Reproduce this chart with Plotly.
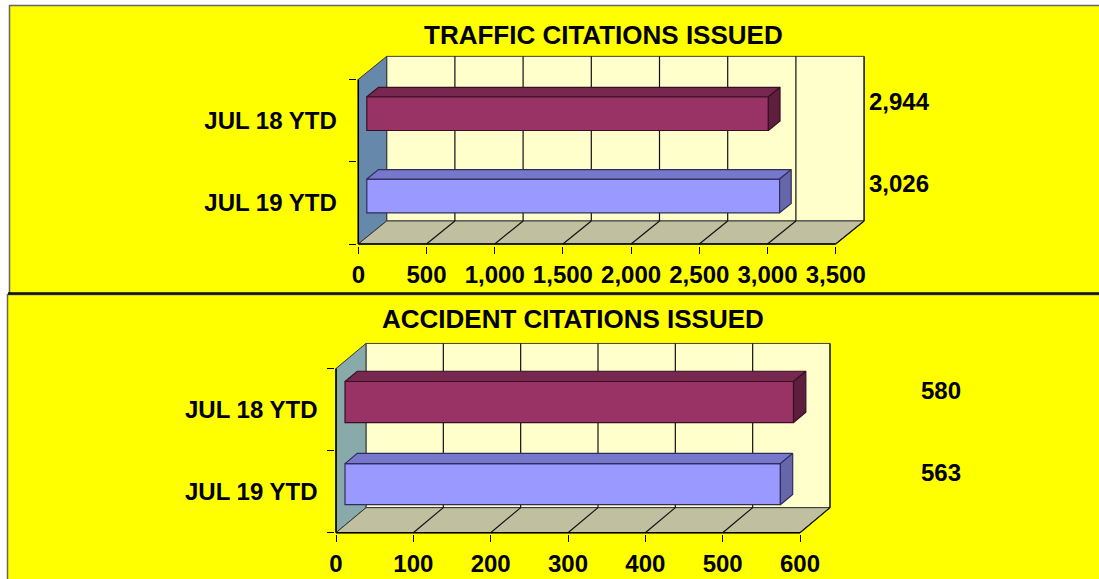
import plotly.graph_objects as go

W, H = 1099, 579

# ---------------- data ----------------
categories = ["JUL 19 YTD", "JUL 18 YTD"]          # bottom -> top
traffic_values = [3026, 2944]
accident_values = [563, 580]
traffic_ticks = [0, 500, 1000, 1500, 2000, 2500, 3000, 3500]
accident_ticks = [0, 100, 200, 300, 400, 500, 600]
titles = ["TRAFFIC CITATIONS ISSUED", "ACCIDENT CITATIONS ISSUED"]

# ---------------- styles ----------------
bar_front = ["#9999FF", "#993366"]
bar_top = ["#7777CC", "#77284F"]
bar_side = ["#6666AA", "#5E1E3E"]
bar_edge = ["#2E2E5C", "#3A0F24"]
FONT = "Liberation Sans, Arial, sans-serif"

panels = [
    dict(values=traffic_values, ticks=traffic_ticks, title=titles[0],
         x0=358.3, scale=477.4 / 3500, xr_px=975, ybot=244.0, band=82.3,
         Dy=0.28, dxpx=28.4, barh=0.41, wall="#6688AA",
         label_px=869, title_xy=(603.5, 35), lab_standoff=19),
    dict(values=accident_values, ticks=accident_ticks, title=titles[1],
         x0=336.0, scale=464.0 / 600, xr_px=990, ybot=532.7, band=82.1,
         Dy=0.305, dxpx=30.0, barh=0.5, wall="#88AAAA",
         label_px=921, title_xy=(573, 318.5), lab_standoff=16),
]

DEPTH_OFF = 0.3   # bar front face depth fraction
BAR_DEPTH = 0.41  # bar depth fraction
PAD = 1.5         # px extension of plot area so edge lines aren't clipped


def fx(px):
    return px / W


def fy(py):
    return 1 - py / H


fig = go.Figure()
shapes = []
annotations = []
layout_axes = {}

for k, p in enumerate(panels):
    xn = "x" if k == 0 else "x2"
    yn = "y" if k == 0 else "y2"
    xa_key = "xaxis" if k == 0 else "xaxis2"
    ya_key = "yaxis" if k == 0 else "yaxis2"
    sc = p["scale"]
    dx = p["dxpx"] / sc
    Dy = p["Dy"]
    xmax = p["ticks"][-1]
    xlo = -PAD / sc
    xhi = (p["xr_px"] - p["x0"]) / sc
    ylo = -0.5 - PAD / p["band"]
    yhi = 1.5 + Dy + 0.02
    top_px = p["ybot"] - (yhi + 0.5) * p["band"]

    layout_axes[xa_key] = dict(
        domain=[fx(p["x0"] - PAD), fx(p["xr_px"])], range=[xlo, xhi],
        anchor=yn, tickvals=p["ticks"], tickformat=",", ticks="outside",
        ticklen=7, tickcolor="black", tickwidth=1, showgrid=False,
        zeroline=False, showline=False, ticklabelstandoff=1, automargin=False,
        tickfont=dict(family=FONT, size=24, color="black", weight="bold"),
        fixedrange=True)
    layout_axes[ya_key] = dict(
        domain=[fy(p["ybot"] + PAD), fy(top_px)], range=[ylo, yhi],
        anchor=xn, tickvals=list(range(len(categories))), ticktext=categories,
        ticks="", showgrid=False, zeroline=False, showline=False,
        ticklabelstandoff=p["lab_standoff"], automargin=False,
        minor=dict(tickvals=[i - 0.5 for i in range(len(categories) + 1)],
                   ticks="outside", ticklen=7, tickcolor="black",
                   showgrid=False),
        tickfont=dict(family=FONT, size=24, color="black", weight="bold"),
        fixedrange=True)

    yb, yt = -0.5, -0.5 + len(categories)
    # back wall
    shapes.append(dict(type="rect", xref=xn, yref=yn, layer="below",
                       x0=dx, x1=xmax + dx, y0=yb + Dy, y1=yt + Dy,
                       fillcolor="#FFFFCC", line=dict(color="#444444", width=1)))
    # left wall
    shapes.append(dict(type="path", xref=xn, yref=yn, layer="below",
                       path=f"M0,{yb} L0,{yt} L{dx},{yt + Dy} L{dx},{yb + Dy} Z",
                       fillcolor=p["wall"], line=dict(color="#333333", width=1)))
    # floor
    shapes.append(dict(type="path", xref=xn, yref=yn, layer="below",
                       path=f"M0,{yb} L{xmax},{yb} L{xmax + dx},{yb + Dy} L{dx},{yb + Dy} Z",
                       fillcolor="#C0C0A0", line=dict(color="#333333", width=1)))
    # grid lines on back wall and floor
    for t in p["ticks"][1:]:
        shapes.append(dict(type="line", xref=xn, yref=yn, layer="below",
                           x0=t + dx, x1=t + dx, y0=yb + Dy, y1=yt + Dy,
                           line=dict(color="#111111", width=1.2)))
        shapes.append(dict(type="line", xref=xn, yref=yn, layer="below",
                           x0=t, x1=t + dx, y0=yb, y1=yb + Dy,
                           line=dict(color="#111111", width=1.2)))
    # front edges
    shapes.append(dict(type="line", xref=xn, yref=yn, layer="below",
                       x0=0, x1=xmax, y0=yb, y1=yb, line=dict(color="black", width=1.5)))
    shapes.append(dict(type="line", xref=xn, yref=yn, layer="below",
                       x0=0, x1=0, y0=yb, y1=yt, line=dict(color="black", width=1.5)))

    # bars
    off = DEPTH_OFF * dx
    h = p["barh"]
    bdx, bdy = BAR_DEPTH * dx, BAR_DEPTH * Dy
    for i, v in enumerate(p["values"]):
        yc = i + DEPTH_OFF * Dy
        fig.add_trace(go.Bar(orientation="h", x=[v], base=[off], y=[yc], width=[h],
                             marker=dict(color=bar_front[i],
                                         line=dict(color=bar_edge[i], width=1.2)),
                             xaxis=xn, yaxis=yn, hoverinfo="skip"))
        fig.add_trace(go.Scatter(
            x=[off, off + v, off + v + bdx, off + bdx, off],
            y=[yc + h / 2, yc + h / 2, yc + h / 2 + bdy, yc + h / 2 + bdy, yc + h / 2],
            fill="toself", fillcolor=bar_top[i], mode="lines",
            line=dict(color=bar_edge[i], width=1.2), xaxis=xn, yaxis=yn,
            hoverinfo="skip"))
        fig.add_trace(go.Scatter(
            x=[off + v, off + v + bdx, off + v + bdx, off + v, off + v],
            y=[yc - h / 2, yc - h / 2 + bdy, yc + h / 2 + bdy, yc + h / 2, yc - h / 2],
            fill="toself", fillcolor=bar_side[i], mode="lines",
            line=dict(color=bar_edge[i], width=1.2), xaxis=xn, yaxis=yn,
            hoverinfo="skip"))

    # value labels
    lab_x = (p["label_px"] - p["x0"]) / sc
    fig.add_trace(go.Scatter(
        x=[lab_x] * len(p["values"]), y=[i + 0.2 for i in range(len(p["values"]))],
        text=[f"{v:,}" for v in p["values"]], mode="text", textposition="middle right",
        textfont=dict(family=FONT, size=24, color="black", weight="bold"),
        cliponaxis=False, xaxis=xn, yaxis=yn, hoverinfo="skip"))

    # title
    tx, ty = p["title_xy"]
    annotations.append(dict(text=p["title"], xref="paper", yref="paper",
                            x=fx(tx), y=fy(ty), xanchor="center", yanchor="middle",
                            showarrow=False,
                            font=dict(family=FONT, size=26, color="black", weight="bold")))

# panel backgrounds and borders (paper)
panel_shapes = [
    dict(type="rect", xref="paper", yref="paper", layer="below",
         x0=fx(9.5), x1=fx(W + 5), y0=fy(293.5), y1=fy(5.5),
         fillcolor="#FFFF00", line=dict(color="#666666", width=1.5)),
    dict(type="rect", xref="paper", yref="paper", layer="below",
         x0=fx(7.5), x1=fx(W + 5), y0=fy(H + 5), y1=fy(294.5),
         fillcolor="#FFFF00", line=dict(color="#666666", width=1.5)),
    dict(type="line", xref="paper", yref="paper", layer="below",
         x0=fx(8), x1=fx(W + 5), y0=fy(293.5), y1=fy(293.5),
         line=dict(color="#111111", width=2.5)),
]

fig.update_layout(
    width=W, height=H, autosize=False,
    margin=dict(l=0, r=0, t=0, b=0, autoexpand=False),
    paper_bgcolor="white", plot_bgcolor="rgba(0,0,0,0)",
    showlegend=False, barmode="overlay",
    shapes=panel_shapes + shapes, annotations=annotations,
    **layout_axes)

fig.write_html("out.html",
               config={"displayModeBar": False, "staticPlot": False},
               post_script="document.body.style.margin='0px';"
                           "document.body.style.overflow='hidden';")
